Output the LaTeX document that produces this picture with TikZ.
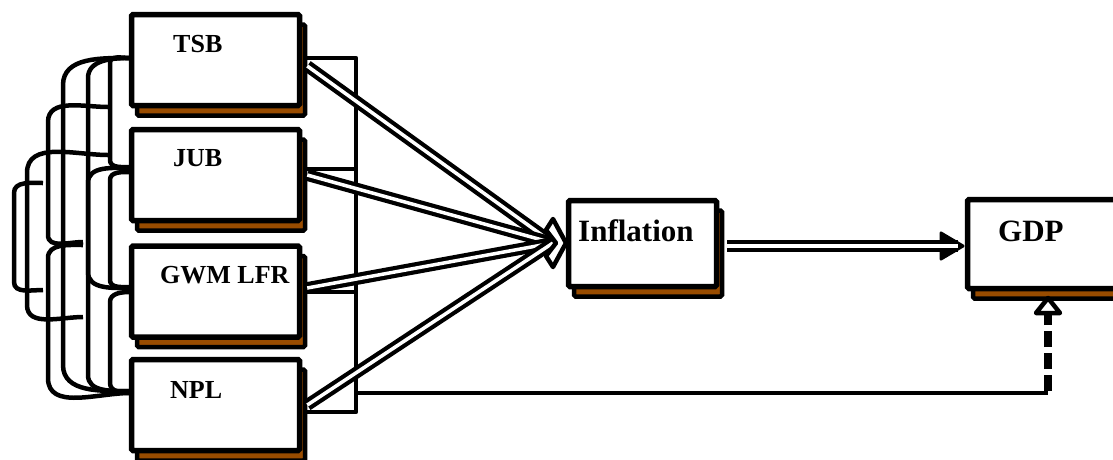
\documentclass[tikz,border=0pt]{standalone}
\usepackage{fontspec}
\setmainfont{Liberation Serif}
\usetikzlibrary{shadows}

\definecolor{boxbrown}{RGB}{153,76,0}

\tikzset{
  box/.style={draw, fill=white, line width=5.5pt, rounded corners=1.5pt, inner sep=0pt,
    general shadow={fill=boxbrown, draw=black, line width=4.5pt, rounded corners=1.5pt,
      shadow xshift=5.5pt, shadow yshift=-10pt}},
  lbl/.style={anchor=base west, inner sep=0pt, font=\fontsize{26}{28}\selectfont\bfseries},
  biglbl/.style={lbl, font=\fontsize{31}{33}\selectfont\bfseries},
  corr/.style={line width=4.5pt},
  dbl/.style={double=white, double distance=3.5pt, line width=4.2pt},
  brk/.style={line width=4.5pt, line join=round},
  fbline/.style={line width=4.5pt},
  fbdash/.style={line width=7.5pt, dash pattern=on 16pt off 6pt}
}

\begin{document}
\begin{tikzpicture}[x=1pt, y=-1pt]
    \useasboundingbox (0,0) rectangle (1113,459);
    \clip (0,0) rectangle (1113,459);

    % Correlation curves on the left side
    \foreach \xs/\ys/\xv/\yt/\yb/\xe/\ye in {
        130/58/63/85/365/130/391, 130/58/88/78/272/130/288,
        130/58/110/63/160/130/167, 108/107/48/122/235/83/242,
        108/155/27/173/305/83/317, 130/168/88/183/375/130/391,
        130/172/110/180/280/130/287, 43/183/14/193/282/43/290,
        83/245/48/258/378/130/393, 130/292/110/302/383/130/393}
        \draw[corr] (\xs,\ys) to[out=180,in=90] (\xv,\yt) -- (\xv,\yb) to[out=-90,in=180] (\xe,\ye);

    % Bracket behind the four predictors
    \draw[brk] (302,58) -- (356,58) -- (356,412) -- (302,412);
    \draw[brk] (302,169) -- (356,169);
    \draw[brk] (302,292) -- (356,292);

    % Boxes
    \node[box, minimum width=168pt, minimum height=91pt] (tsb) at (215.5,60) {};
    \node[box, minimum width=168pt, minimum height=91pt] (jub) at (215.5,175) {};
    \node[box, minimum width=168pt, minimum height=91pt] (gwm) at (215.5,291.5) {};
    \node[box, minimum width=168pt, minimum height=91pt] (npl) at (215.5,405) {};
    \node[box, minimum width=148pt, minimum height=86pt] (infl) at (642.5,243.5) {};
    \node[box, minimum width=192.5pt, minimum height=89pt] (gdp) at (1063.75,244) {};

    % Box labels
    \node[lbl] (tsbtext) at (173,52) {TSB};
    \node[lbl] (jubtext) at (173,166) {JUB};
    \node[lbl] (gwmtext) at (160,283) {GWM LFR};
    \node[lbl] (npltext) at (170,398) {NPL};
    \node[biglbl] (infltext) at (578,241) {Inflation};
    \node[biglbl] (gdptext) at (998,241) {GDP};

    % Double arrows into Inflation
    \coordinate (hub) at (553,243);
    \draw[dbl] ([xshift=5pt,yshift=-6pt]tsb.east) -- (hub);
    \draw[dbl] ([xshift=5pt]jub.east) -- (hub);
    \draw[dbl] ([xshift=5pt,yshift=3.5pt]gwm.east) -- (hub);
    \draw[dbl] ([xshift=5pt]npl.east) -- (hub);
    \draw[line width=4.5pt, fill=white, line join=round]
        (546,230) -- (553,219) -- (566,243) -- (553,267) -- (546,256) -- (556,243) -- cycle;

    % Double arrow from Inflation to GDP
    \filldraw[line width=3pt, line join=round] (941,233) -- (963,246) -- (941,259) -- cycle;
    \draw[dbl] ([xshift=8pt,yshift=-2.5pt]infl.east) -- (958,246);

    % Feedback line to GDP
    \coordinate (bkt) at (356,393);
    \coordinate (fbc) at (1048,393);
    \coordinate (fbtip) at (1048,298);
    \draw[fbline] (bkt) -- (fbc);
    \draw[fbdash] ([yshift=2pt]fbc) -- (1048,314);
    \draw[line width=4.5pt, fill=white, line join=round]
        (fbtip) -- (1060,313) -- (1036,313) -- cycle;
\end{tikzpicture}
\end{document}
